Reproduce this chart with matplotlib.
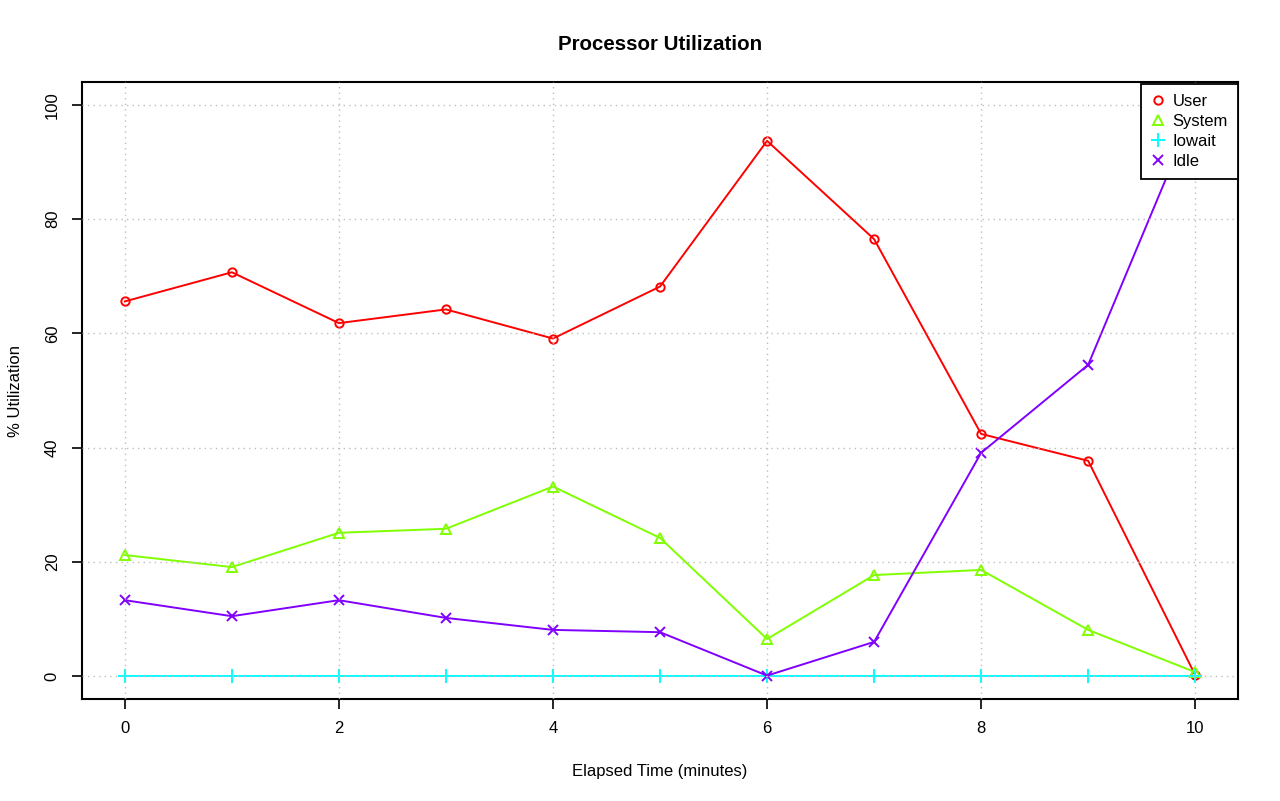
import matplotlib
matplotlib.use("Agg")
import matplotlib.pyplot as plt

plt.rcParams['font.family'] = ['Liberation Sans', 'DejaVu Sans']

minutes = [0, 1, 2, 3, 4, 5, 6, 7, 8, 9, 10]
user = [65.6, 70.7, 61.8, 64.2, 59.1, 68.2, 93.7, 76.5, 42.4, 37.7, 0.2]
system = [21.2, 19.1, 25.1, 25.8, 33.2, 24.2, 6.5, 17.7, 18.6, 8.1, 0.7]
iowait = [0, 0, 0, 0, 0, 0, 0, 0, 0, 0, 0]
idle = [13.3, 10.5, 13.3, 10.2, 8.1, 7.7, 0.1, 6.0, 39.1, 54.5, 99.3]
xticks = [0, 2, 4, 6, 8, 10]
yticks = [0, 20, 40, 60, 80, 100]

fig = plt.figure(figsize=(12.8, 8.01), dpi=100)
ax = fig.add_axes([0.0641, 0.1273, 0.9031, 0.7703])

series = [
    ("User", user, "#FF0000", "o", dict(mfc="none", ms=6, mew=1.4)),
    ("System", system, "#80FF00", "^", dict(mfc="none", ms=7.5, mew=1.4)),
    ("Iowait", iowait, "#00FFFF", "+", dict(ms=10, mew=1.4)),
    ("Idle", idle, "#8000FF", "x", dict(ms=6.5, mew=1.4)),
]
handles = []
for name, vals, col, mk, kw in series:
    ax.plot(minutes, vals, color=col, lw=1.4, marker=mk, mec=col, zorder=2, **kw)
    h, = ax.plot([], [], ls="none", color=col, marker=mk, mec=col, **kw)
    h.set_label(name)
    handles.append(h)

ax.set_xlim(-0.4, 10.4)
ax.set_ylim(-4, 104)
ax.set_xticks(xticks)
ax.set_yticks(yticks)
ax.grid(True, color="#BEBEBE", ls=(0, (1, 3)), lw=1.0, zorder=3)
ax.set_axisbelow(False)
for s in ax.spines.values():
    s.set_linewidth(1.5)
ax.tick_params(direction="out", length=7, width=1.2, labelsize=12, pad=9)
for lab in ax.get_yticklabels():
    lab.set_rotation(90)
    lab.set_va("center")

ax.set_title("Processor Utilization", fontsize=14.8, fontweight="bold", pad=23)
ax.set_xlabel("Elapsed Time (minutes)", fontsize=12, labelpad=20)
ax.set_ylabel("% Utilization", fontsize=12, labelpad=16)

leg = ax.legend(handles=handles, loc="upper right", bbox_to_anchor=(1.0, 0.997),
                fontsize=12, frameon=True,
                fancybox=False, borderaxespad=0, handlelength=0.9, handletextpad=0.4,
                labelspacing=0.3, borderpad=0.6)
leg.get_frame().set_edgecolor("black")
leg.get_frame().set_linewidth(1.3)
leg.get_frame().set_alpha(1)
leg.set_zorder(5)

fig.savefig("out.png", dpi=100)
